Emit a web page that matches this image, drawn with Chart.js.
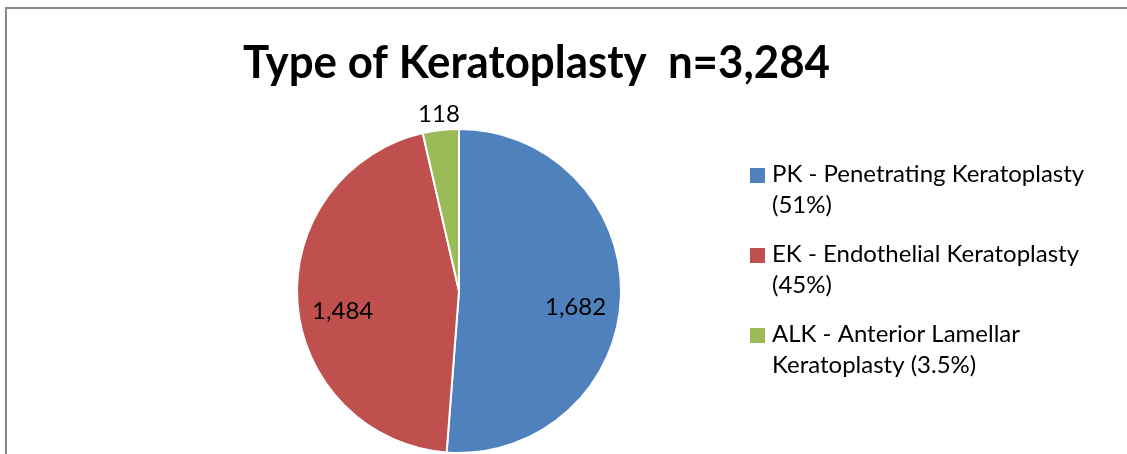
<!DOCTYPE html>
<html>
<head>
<meta charset="utf-8">
<script src="https://cdn.jsdelivr.net/npm/chart.js@4/dist/chart.umd.min.js"></script>
<style>
  html, body { margin: 0; padding: 0; background: #ffffff; }
  #wrap { position: relative; width: 1127px; height: 454px; overflow: hidden; }
</style>
</head>
<body>
<div id="wrap"><canvas id="c"></canvas></div>
<script>
const titleText = "Type of Keratoplasty  n=3,284";
const categories = ["PK - Penetrating Keratoplasty", "EK - Endothelial Keratoplasty", "ALK - Anterior Lamellar Keratoplasty"];
const values = [1682, 1484, 118];
const valueLabels = ["1,682", "1,484", "118"];
const legendLines = [
  ["PK - Penetrating Keratoplasty", "(51%)"],
  ["EK - Endothelial Keratoplasty", "(45%)"],
  ["ALK - Anterior Lamellar", "Keratoplasty (3.5%)"]
];
const colors = ["#4F81BD", "#C0504D", "#9BBB59"];

const FONT = "Lato, 'Open Sans', 'DejaVu Sans', sans-serif";

const decor = {
  id: 'decor',
  beforeDraw(chart) {
    const ctx = chart.ctx;
    ctx.save();
    ctx.fillStyle = '#ffffff';
    ctx.fillRect(0, 0, chart.width, chart.height);
    ctx.fillStyle = '#898989';
    ctx.fillRect(5, 7, chart.width - 5, 2);
    ctx.fillRect(5, 7, 2, chart.height - 7);
    // title
    ctx.fillStyle = '#000000';
    ctx.font = "bold 46px " + FONT;
    ctx.textBaseline = 'alphabetic';
    ctx.textAlign = 'left';
    const w = ctx.measureText(titleText).width;
    const targetW = 587;
    const sx = targetW / w;
    ctx.translate(243, 78);
    ctx.scale(sx, 1);
    ctx.fillText(titleText, 0, 0);
    ctx.restore();
  },
  afterDatasetsDraw(chart) {
    const ctx = chart.ctx;
    const meta = chart.getDatasetMeta(0);
    const total = values.reduce((a, b) => a + b, 0);
    ctx.save();
    ctx.fillStyle = '#000000';
    ctx.font = "24px " + FONT;
    ctx.textAlign = 'center';
    meta.data.forEach((arc, i) => {
      const p = arc.getProps(['x', 'y', 'startAngle', 'endAngle', 'outerRadius'], true);
      const mid = (p.startAngle + p.endAngle) / 2;
      const frac = values[i] / total;
      let d, base;
      if (frac > 0.1) { d = p.outerRadius * 0.72; base = 'top'; }
      else { d = p.outerRadius * 1.1; base = 'middle'; }
      ctx.textBaseline = base;
      ctx.fillText(valueLabels[i], p.x + d * Math.cos(mid), p.y + d * Math.sin(mid));
    });
    // legend
    ctx.textAlign = 'left';
    ctx.textBaseline = 'alphabetic';
    ctx.font = "24px " + FONT;
    const x0 = 750, tx = 772;
    let y = 182;
    legendLines.forEach((lines, i) => {
      ctx.fillStyle = colors[i];
      ctx.fillRect(x0, y - 14, 15, 15);
      ctx.fillStyle = '#000000';
      lines.forEach((ln, j) => {
        ctx.fillText(ln, tx, y + j * 31);
      });
      y += 80;
    });
    ctx.restore();
  }
};

new Chart(document.getElementById('c'), {
  type: 'pie',
  data: {
    labels: categories,
    datasets: [{
      data: values,
      backgroundColor: colors,
      borderColor: '#ffffff',
      borderWidth: 2,
      radius: 162
    }]
  },
  options: {
    responsive: true,
    maintainAspectRatio: false,
    animation: false,
    events: [],
    layout: { padding: { left: 0, right: 209, top: 128, bottom: 0 } },
    plugins: {
      legend: { display: false },
      title: { display: false },
      tooltip: { enabled: false }
    }
  },
  plugins: [decor]
});
</script>
</body>
</html>
